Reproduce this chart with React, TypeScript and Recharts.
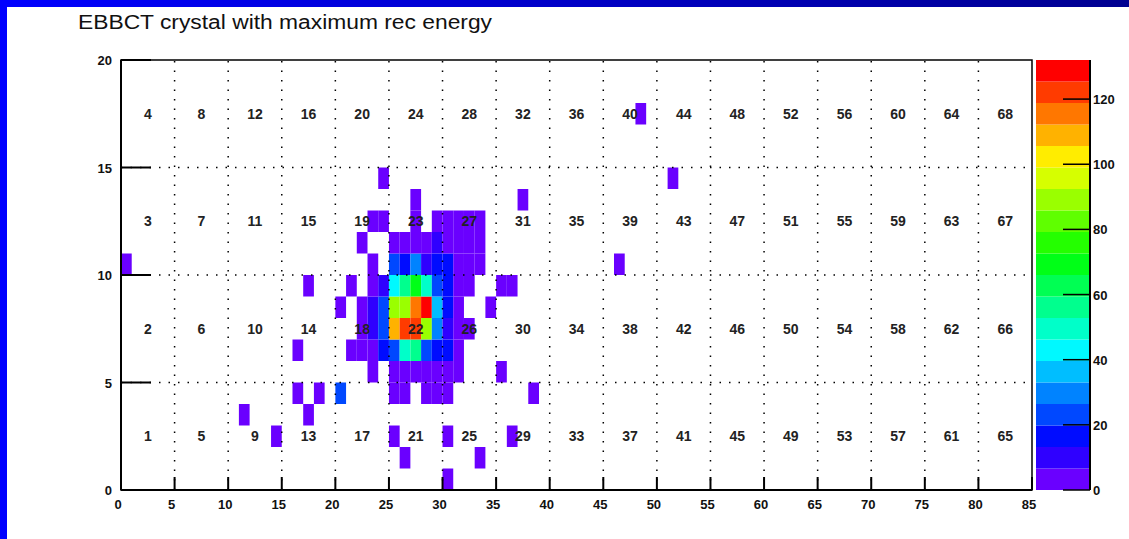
import {
  ScatterChart,
  Scatter,
  XAxis,
  YAxis,
  ReferenceArea,
  ReferenceLine,
  BarChart,
  Bar,
} from "recharts";

const TITLE = "EBBCT crystal with maximum rec energy";

const X_TICKS = [0, 5, 10, 15, 20, 25, 30, 35, 40, 45, 50, 55, 60, 65, 70, 75, 80, 85];
const Y_TICKS = [0, 5, 10, 15, 20];
const Z_TICKS = [0, 20, 40, 60, 80, 100, 120];
const X_GRID = [5, 10, 15, 20, 25, 30, 35, 40, 45, 50, 55, 60, 65, 70, 75, 80];
const Y_GRID = [5, 10, 15];
const Z_MAX = 132;
const N_LEVELS = 20;

// crystal numbers of the 5x5 blocks, bottom block row first
const BLOCK_ROW_1 = [1, 5, 9, 13, 17, 21, 25, 29, 33, 37, 41, 45, 49, 53, 57, 61, 65];
const BLOCK_ROW_2 = [2, 6, 10, 14, 18, 22, 26, 30, 34, 38, 42, 46, 50, 54, 58, 62, 66];
const BLOCK_ROW_3 = [3, 7, 11, 15, 19, 23, 27, 31, 35, 39, 43, 47, 51, 55, 59, 63, 67];
const BLOCK_ROW_4 = [4, 8, 12, 16, 20, 24, 28, 32, 36, 40, 44, 48, 52, 56, 60, 64, 68];

// [x bin, rec energy] for each y bin
const ROW_0: [number, number][] = [[30, 3]];
const ROW_1: [number, number][] = [[26, 3], [33, 3]];
const ROW_2: [number, number][] = [[14, 3], [25, 3], [30, 3], [36, 3]];
const ROW_3: [number, number][] = [[11, 3], [17, 3]];
const ROW_4: [number, number][] = [[16, 3], [18, 3], [20, 23], [25, 3], [26, 3], [28, 3], [29, 3], [30, 3], [38, 3]];
const ROW_5: [number, number][] = [[23, 3], [25, 3], [26, 3], [27, 3], [28, 3], [29, 3], [30, 3], [31, 3], [35, 3]];
const ROW_6: [number, number][] = [[16, 3], [21, 3], [22, 3], [23, 3], [24, 16], [25, 23], [26, 50], [27, 56], [28, 23], [29, 16], [30, 16], [31, 3]];
const ROW_7: [number, number][] = [[22, 3], [23, 10], [24, 23], [25, 109], [26, 122], [27, 122], [28, 88], [29, 30], [30, 10], [31, 3], [32, 3]];
const ROW_8: [number, number][] = [[20, 3], [22, 3], [23, 10], [24, 23], [25, 89], [26, 89], [27, 116], [28, 129], [29, 36], [30, 16], [31, 3], [34, 3]];
const ROW_9: [number, number][] = [[17, 3], [21, 3], [23, 3], [24, 10], [25, 43], [26, 56], [27, 69], [28, 50], [29, 23], [30, 16], [31, 3], [32, 3], [35, 3], [36, 3]];
const ROW_10: [number, number][] = [[0, 3], [23, 3], [25, 23], [26, 16], [27, 30], [28, 10], [29, 16], [30, 16], [31, 3], [32, 3], [33, 3], [46, 3]];
const ROW_11: [number, number][] = [[22, 3], [25, 3], [26, 3], [27, 3], [28, 3], [29, 10], [30, 3], [31, 3], [32, 3], [33, 3]];
const ROW_12: [number, number][] = [[23, 3], [24, 3], [27, 3], [29, 3], [30, 3], [31, 3], [32, 3], [33, 3]];
const ROW_13: [number, number][] = [[27, 3], [37, 3]];
const ROW_14: [number, number][] = [[24, 3], [51, 3]];
const ROW_17: [number, number][] = [[48, 3]];

const ROWS: [number, [number, number][]][] = [
  [0, ROW_0], [1, ROW_1], [2, ROW_2], [3, ROW_3], [4, ROW_4], [5, ROW_5],
  [6, ROW_6], [7, ROW_7], [8, ROW_8], [9, ROW_9], [10, ROW_10], [11, ROW_11],
  [12, ROW_12], [13, ROW_13], [14, ROW_14], [17, ROW_17],
];

const W = 1129;
const H = 539;
const FONT = "'Liberation Sans', Arial, Helvetica, sans-serif";

function levelColor(level: number) {
  const hue = 265 - (level * 265) / (N_LEVELS - 1);
  return `hsl(${hue}, 100%, 50%)`;
}

function energyColor(e: number) {
  const level = Math.min(N_LEVELS - 1, Math.floor(e / (Z_MAX / N_LEVELS)));
  return levelColor(level);
}

const cells = ROWS.flatMap(([y, row]) => row.map(([x, e]) => ({ x, y, e })));

const blockLabels = [BLOCK_ROW_1, BLOCK_ROW_2, BLOCK_ROW_3, BLOCK_ROW_4].flatMap((row, r) =>
  row.map((label, c) => ({ x: c * 5 + 2.5, y: r * 5 + 2.5, label }))
);

const levels = Array.from({ length: N_LEVELS }, (_, k) => k);
const levelRow: Record<string, number | string> = { name: "z" };
levels.forEach((k) => (levelRow[`b${k}`] = Z_MAX / N_LEVELS));

const tickText = {
  fontFamily: FONT,
  fontWeight: 700,
  fontSize: 13,
  fill: "#111",
};

function XTick({ x, y, payload }: any) {
  return (
    <g>
      <line x1={x} x2={x} y1={y} y2={y - 13} stroke="#000" strokeWidth={2} />
      <text x={x - 3} y={y + 19} textAnchor="middle" {...tickText}>
        {payload.value}
      </text>
    </g>
  );
}

function YTick({ x, y, payload }: any) {
  return (
    <g>
      <line x1={x} x2={x + 30} y1={y} y2={y} stroke="#000" strokeWidth={2} />
      <text x={x - 9} y={y + 5} textAnchor="end" {...tickText}>
        {payload.value}
      </text>
    </g>
  );
}

function ZTick({ x, y, payload }: any) {
  return (
    <g>
      <line x1={x - 27} x2={x} y1={y} y2={y} stroke="#000" strokeWidth={1.5} />
      <text x={x + 3} y={y + 5} textAnchor="start" {...tickText}>
        {payload.value}
      </text>
    </g>
  );
}

function BlockLabel({ cx, cy, payload }: any) {
  return (
    <text
      x={cx}
      y={cy + 5}
      textAnchor="middle"
      fontFamily={FONT}
      fontWeight={700}
      fontSize={14}
      fill="#222"
    >
      {payload.label}
    </text>
  );
}

export default function App() {
  return (
    <div
      style={{
        position: "absolute",
        left: 0,
        top: 0,
        width: W,
        height: H,
        background: "#fff",
        overflow: "hidden",
      }}
    >
      <div
        style={{
          position: "absolute",
          left: 0,
          top: 0,
          width: W,
          height: 7,
          background: "linear-gradient(to right, #0000ff, #000090)",
        }}
      />
      <div style={{ position: "absolute", left: 0, top: 0, width: 7, height: H, background: "#0000ff" }} />
      <svg width={W} height={H} style={{ position: "absolute", left: 0, top: 0 }}>
        <text
          x={78}
          y={29}
          fontFamily={FONT}
          fontSize={19.5}
          fill="#111"
          textLength={414}
          lengthAdjust="spacingAndGlyphs"
        >
          {TITLE}
        </text>
      </svg>

      <div style={{ position: "absolute", left: 0, top: 0 }}>
        <ScatterChart width={W} height={H} margin={{ top: 60, right: 97, bottom: 19, left: 81 }}>
          <XAxis
            dataKey="x"
            type="number"
            domain={[0, 85]}
            ticks={X_TICKS}
            interval={0}
            height={30}
            tickSize={0}
            tickMargin={0}
            tickLine={false}
            axisLine={{ stroke: "#000", strokeWidth: 2 }}
            tick={<XTick />}
          />
          <YAxis
            dataKey="y"
            type="number"
            domain={[0, 20]}
            ticks={Y_TICKS}
            interval={0}
            width={40}
            tickSize={0}
            tickMargin={0}
            tickLine={false}
            axisLine={{ stroke: "#000", strokeWidth: 2 }}
            tick={<YTick />}
          />
          {cells.map((c) => (
            <ReferenceArea
              key={`${c.x}-${c.y}`}
              x1={c.x}
              x2={c.x + 1}
              y1={c.y}
              y2={c.y + 1}
              fill={energyColor(c.e)}
              fillOpacity={1}
              stroke="none"
            />
          ))}
          {X_GRID.map((v) => (
            <ReferenceLine key={`gx${v}`} x={v} stroke="#000" strokeWidth={1.5} strokeDasharray="1.5 8" />
          ))}
          {Y_GRID.map((v) => (
            <ReferenceLine key={`gy${v}`} y={v} stroke="#000" strokeWidth={1.5} strokeDasharray="1.5 8" />
          ))}
          <ReferenceArea x1={0} x2={85} y1={0} y2={20} fill="none" stroke="#000" strokeWidth={1.5} />
          <Scatter data={blockLabels} shape={<BlockLabel />} isAnimationActive={false} />
        </ScatterChart>
      </div>

      <div style={{ position: "absolute", left: 1030, top: 0 }}>
        <BarChart
          width={100}
          height={H}
          data={[levelRow]}
          margin={{ top: 60, right: 0, bottom: 49, left: 6 }}
          barCategoryGap={0}
        >
          <XAxis dataKey="name" hide />
          <YAxis
            orientation="right"
            type="number"
            domain={[0, Z_MAX]}
            ticks={Z_TICKS}
            interval={0}
            width={40}
            tickSize={0}
            tickMargin={0}
            tickLine={false}
            axisLine={{ stroke: "#000", strokeWidth: 2 }}
            tick={<ZTick />}
          />
          {levels.map((k) => (
            <Bar key={k} dataKey={`b${k}`} stackId="z" fill={levelColor(k)} isAnimationActive={false} />
          ))}
        </BarChart>
      </div>
    </div>
  );
}
